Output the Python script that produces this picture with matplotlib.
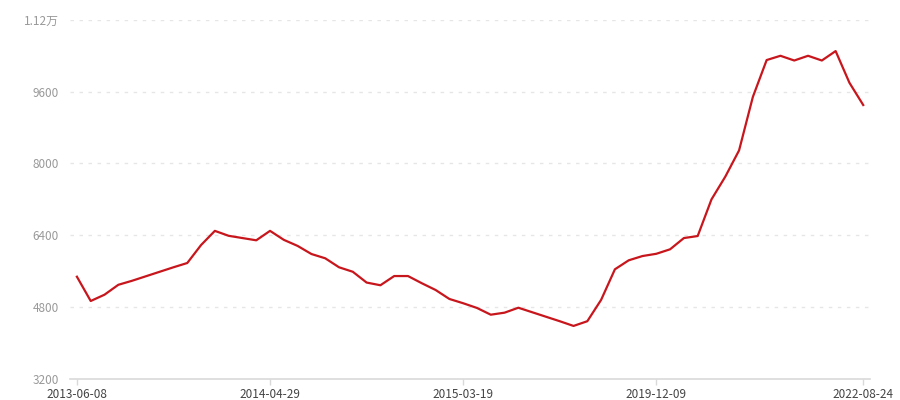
import numpy as np
import matplotlib.pyplot as plt

plt.rcParams['font.family'] = ['Noto Sans CJK SC', 'DejaVu Sans']

# values, one per period
values = [5480, 4940, 5080, 5300, 5390, 5490, 5590, 5690, 5785, 6185,
          6500, 6390, 6340, 6290, 6500, 6300, 6165, 5985, 5890, 5690,
          5590, 5350, 5290, 5495, 5495, 5335, 5185, 4985, 4890, 4785,
          4635, 4680, 4790, 4690, 4590, 4490, 4385, 4490, 4965, 5645,
          5845, 5940, 5990, 6090, 6340, 6385, 7200, 7705, 8290, 9480,
          10300, 10395, 10290, 10395, 10290, 10500, 9795, 9300]
tick_idx = [0, 14, 28, 42, 57]
tick_labels = ['2013-06-08', '2014-04-29', '2015-03-19', '2019-12-09', '2022-08-24']
y_ticks = [3200, 4800, 6400, 8000, 9600, 11200]
y_labels = ['3200', '4800', '6400', '8000', '9600', '1.12万']

fig = plt.figure(figsize=(9, 4), dpi=100)
ax = fig.add_axes([0.0778, 0.052, 0.889, 0.899])

x = np.arange(len(values))
ax.plot(x, values, color='#c8161d', lw=1.6, solid_joinstyle='round')

ax.set_xlim(-0.5, len(values) - 0.5)
ax.set_ylim(3200, 11200)
ax.set_yticks(y_ticks)
ax.set_yticklabels(y_labels)
ax.set_xticks(tick_idx)
ax.set_xticklabels(tick_labels)

for v in y_ticks[1:]:
    ax.axhline(v, color='#e6e6e6', lw=1, ls=(0, (2.5, 4)), zorder=0)

for s in ['top', 'right', 'left']:
    ax.spines[s].set_visible(False)
ax.spines['bottom'].set_color('#d9d9d9')
ax.spines['bottom'].set_linewidth(1.2)

ax.tick_params(axis='y', length=0, pad=8, labelsize=8.5, labelcolor='#999999')
ax.tick_params(axis='x', length=4, width=1, color='#d9d9d9', pad=2,
               labelsize=8.5, labelcolor='#444444')

fig.savefig('out.png', dpi=100)
